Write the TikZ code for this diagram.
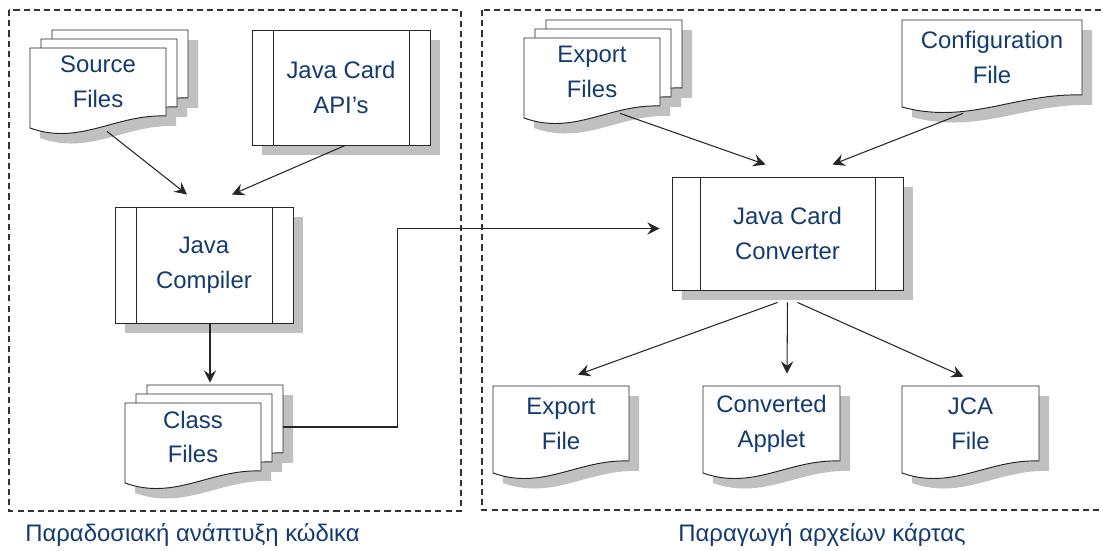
\documentclass[tikz,border=0pt]{standalone}
\usepackage{fontspec}
\setmainfont{Liberation Sans}
\usetikzlibrary{arrows.meta, shadows}

\definecolor{textblue}{RGB}{20,58,112}
\definecolor{shade}{RGB}{192,192,192}
\definecolor{frame}{RGB}{51,51,51}

% one sheet of paper with a wavy lower edge
\newcommand{\sheet}[5][]{%
  \path[#1] (#2,#3) -- ++(#4,0) -- ++(0,#5-12)
    .. controls +(-0.375*#4,-2) and +(0.368*#4,18) .. ++(-#4,12) -- cycle;}

% document (with #1 extra sheets behind it): name, x, y, w, h, text
\newcommand{\docfile}[7]{%
  \foreach \k in {#1,...,0} {\sheet[fill=shade]{#3+11*\k+10}{#4-9*\k+10}{#5}{#6}}
  \foreach \k in {#1,...,0} {\sheet[fill=white, draw=black!85, line width=0.55pt]{#3+11*\k}{#4-9*\k}{#5}{#6}}
  \node[doctext, minimum width=#5*0.02cm, minimum height=(#6-12)*0.02cm] (#2) at (#3+#5/2, #4+#6/2-6) {#7};
}

\begin{document}
\begin{tikzpicture}
  [
    x=0.02cm, y=-0.02cm,
    >={Stealth[length=7pt, width=7pt, inset=2.5pt]},
    line/.style={draw=black!85, line width=0.6pt},
    doctext/.style={inner sep=0pt, align=center, text=textblue, font=\fontsize{13.6}{19.8}\selectfont},
    procbox/.style={doctext, draw=black!85, fill=white, line width=0.55pt,
      drop shadow={shadow xshift=0.2cm, shadow yshift=-0.2cm, fill=shade, opacity=1},
      path picture={
        \draw[black!85, line width=0.55pt] ([xshift=#1]path picture bounding box.north west) -- ([xshift=#1]path picture bounding box.south west);
        \draw[black!85, line width=0.55pt] ([xshift=-#1]path picture bounding box.north east) -- ([xshift=-#1]path picture bounding box.south east);}},
    procbox/.default=0.42cm,
    group/.style={draw=frame, line width=0.7pt, dash pattern=on 3.5pt off 2.3pt},
    grouplabel/.style={text=textblue, font=\fontsize{13.6}{16}\selectfont}
  ]
  \useasboundingbox (0,0) rectangle (1103,551);

  % Frames
  \path[group] (9,10) rectangle (461,511);
  \path[group] (482,10) rectangle (1112,510);

  % Nodes
  \docfile{2}{src}{30}{48}{136}{80}{Source\\Files}
  \node[procbox, minimum width=3.56cm, minimum height=2.3cm] (api) at (341,87.5) {Java Card\\API’s};
  \node[procbox, minimum width=3.56cm, minimum height=2.32cm] (jc) at (204,265) {Java\\Compiler};
  \docfile{2}{cls}{125}{403}{136}{80}{Class\\Files}

  \docfile{2}{expfs}{524}{38}{136}{80}{Export\\Files}
  \docfile{0}{cfg}{902}{20}{180}{87}{Configuration\\File}
  \node[procbox=0.56cm, minimum width=4.62cm, minimum height=2.26cm] (conv) at (787.5,233.5) {Java Card\\Converter};
  \docfile{0}{expf}{493}{386}{136}{87}{Export\\File}
  \docfile{0}{app}{703}{386}{137}{87}{Converted\\Applet}
  \docfile{0}{jca}{902}{386}{137}{87}{JCA\\File}

  \node[grouplabel] (lblcode) at (192.5,535) {Παραδοσιακή ανάπτυξη κώδικα};
  \node[grouplabel] (lblcard) at (822,535) {Παραγωγή αρχείων κάρτας};

  % Lines
  \path [->, line] ([shift={(9,15)}]src.south) -- ([shift={(-17,-12)}]jc.north);
  \path [->, line] ([shift={(4,0)}]api.south) -- ([shift={(28,-12)}]jc.north);
  \path [->, line] ([shift={(6,0)}]jc.south) -- ([shift={(17,-20)}]cls.north);
  \path [->, line] ([shift={(22,-10)}]cls.east) -- ++(114,0) |- ([shift={(-12,-5)}]conv.west);
  \path [->, line] ([shift={(28,7)}]expfs.south) -- ([shift={(-22,-12)}]conv.north);
  \path [->, line] ([shift={(-29,18)}]cfg.south) -- ([shift={(45,-12)}]conv.north);
  \path [->, line] ([shift={(-10,12)}]conv.south) -- ([shift={(17,-11)}]expf.north);
  \path [->, line] ([shift={(0,12)}]conv.south) -- ([shift={(15.5,-12)}]app.north);
  \path [->, line] ([shift={(10,12)}]conv.south) -- ([shift={(-7,-9)}]jca.north);

\end{tikzpicture}
\end{document}
